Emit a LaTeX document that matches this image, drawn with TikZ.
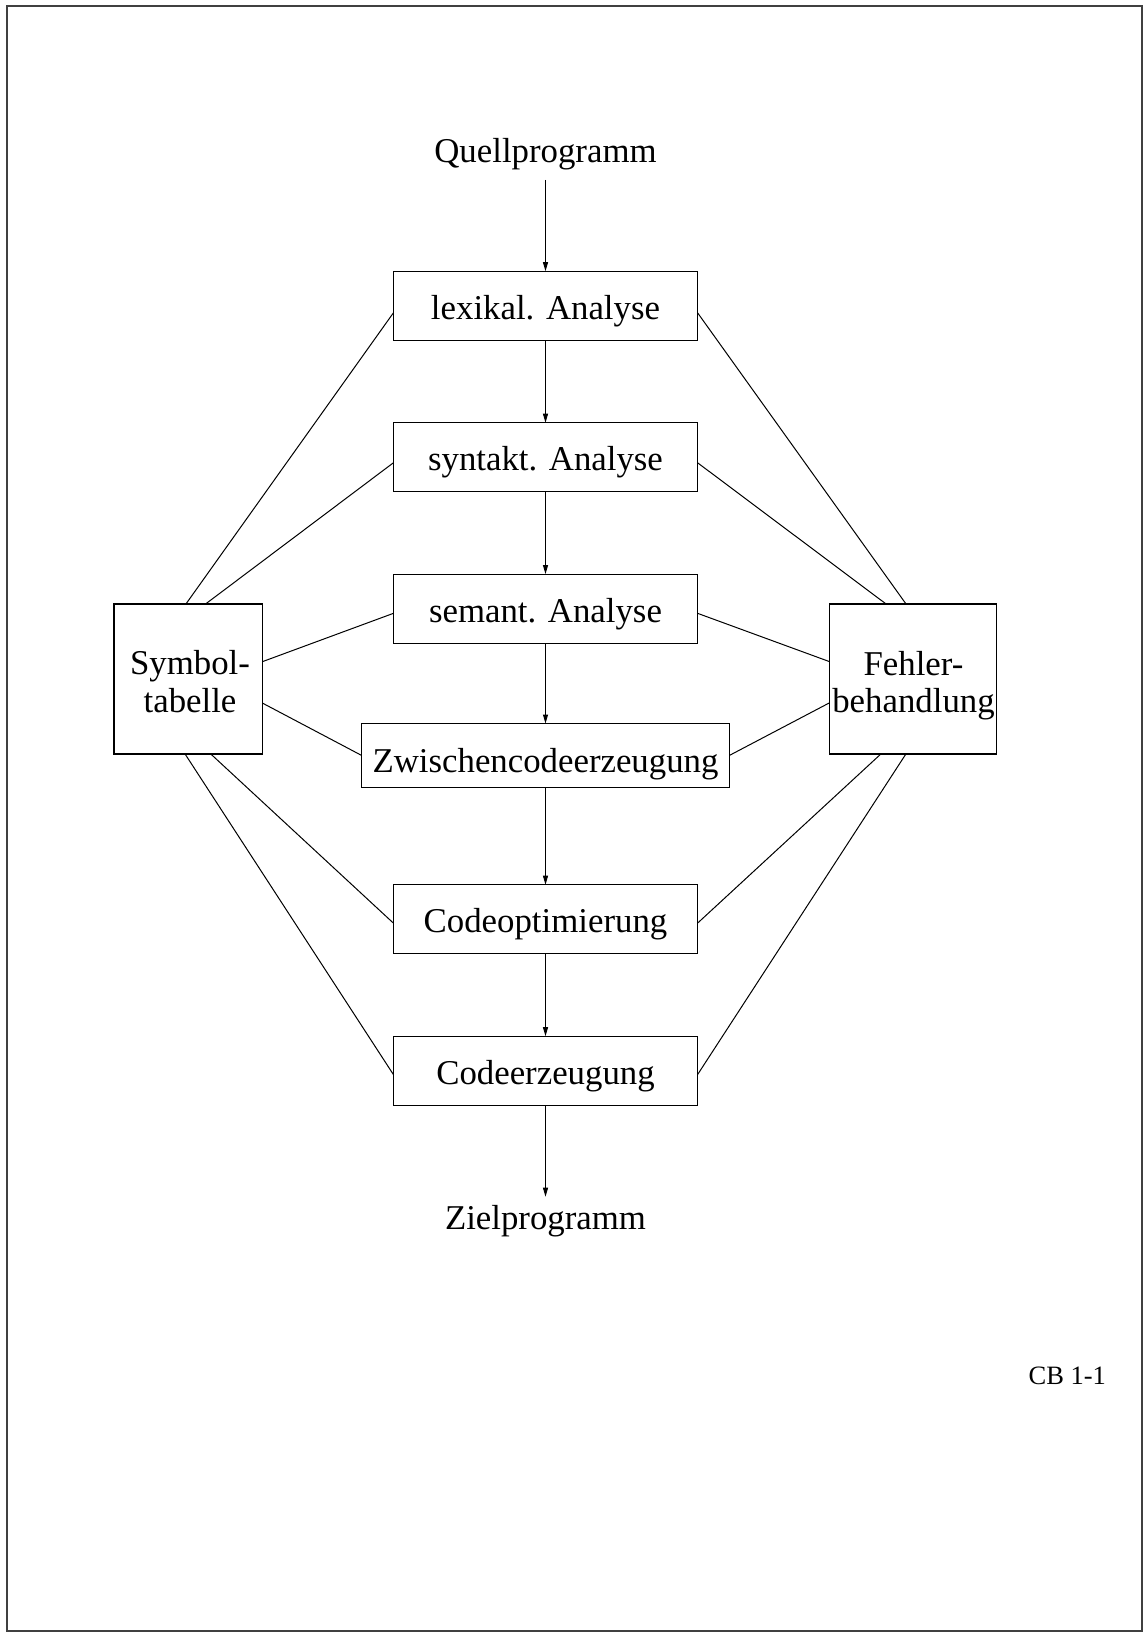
\documentclass[tikz,border=0pt]{standalone}
\usepackage{fontspec}
\setmainfont{Liberation Serif}
\usetikzlibrary{arrows.meta}
\newcommand\stagefont{\fontsize{34.8pt}{38pt}\selectfont}
\newcommand\tagfont{\fontsize{26.5pt}{30pt}\selectfont}
\begin{document}
\begin{tikzpicture}[x=1pt,y=-1pt,
  every node/.style={inner sep=0pt, outer sep=0pt},
  txt/.style={font=\stagefont},
  stage/.style={draw, line width=1.2pt, font=\stagefont,
    minimum width=304pt, minimum height=69pt,
    text height=30pt, text depth=3pt},
  side/.style={draw, line width=1.2pt, minimum height=150pt},
  flow/.style={line width=1pt, -{Triangle[length=9pt,width=5pt]}},
  link/.style={line width=1pt}]
\useasboundingbox (0,0) rectangle (1144,1632);
% page frame
\draw[line width=2pt, black!75] (7.3,6.3) rectangle (1142.3,1630.7);

% compiler phases
\node[txt, anchor=base, text depth=4pt, inner ysep=13.3pt] (src) at (545.5,162.7) {Quellprogramm};
\node[stage] (lex) at (545.5,305.7) {lexikal. Analyse};
\node[stage] (syn) at (545.5,457.2) {syntakt. Analyse};
\node[stage] (sem) at (545.5,608.6) {semant. Analyse};
\node[stage, minimum width=367.5pt, minimum height=64pt, text height=37pt] (zw) at (545.5,755.5) {Zwischencodeerzeugung};
\node[stage] (opt) at (545.5,919.2) {Codeoptimierung};
\node[stage] (gen) at (545.5,1070.7) {Codeerzeugung};
\node[txt, anchor=base, text height=26pt, inner ysep=7pt] (dst) at (545.5,1229.7) {Zielprogramm};

% side components
\node[side, minimum width=148.3pt] (sym) at (188.15,678.9) {};
\node[txt, anchor=base] (symA) at (190,674.2) {Symbol-};
\node[txt, anchor=base] (symB) at (190,712.5) {tabelle};
\node[side, minimum width=166.5pt] (err) at (912.95,678.9) {};
\node[txt, anchor=base] (errA) at (913.5,675) {Fehler-};
\node[txt, anchor=base] (errB) at (913.5,712.7) {behandlung};

\node[anchor=base, font=\tagfont] (tag) at (1067.3,1384) {CB 1-1};

% main flow
\draw[flow] (src) -- (lex);
\draw[flow] (lex) -- (syn);
\draw[flow] (syn) -- (sem);
\draw[flow] (sem) -- (zw);
\draw[flow] (zw) -- (opt);
\draw[flow] (opt) -- (gen);
\draw[flow] (gen) -- (dst);

% links to the symbol table
\draw[link] ([yshift=-7pt]lex.west) -- ([xshift=-2.15pt]sym.north);
\draw[link] ([yshift=-5.5pt]syn.west) -- ([xshift=17.55pt]sym.north);
\draw[link] ([yshift=-4.7pt]sem.west) -- ([yshift=17.2pt]sym.east);
\draw[link] (zw.west) -- ([yshift=-24.1pt]sym.east);
\draw[link] ([yshift=-4pt]opt.west) -- ([xshift=22.55pt]sym.south);
\draw[link] ([yshift=-4pt]gen.west) -- ([xshift=-3.15pt]sym.south);

% links to the error handling
\draw[link] ([yshift=-7pt]lex.east) -- ([xshift=-7pt]err.north);
\draw[link] ([yshift=-5.5pt]syn.east) -- ([xshift=-27pt]err.north);
\draw[link] ([yshift=-4.7pt]sem.east) -- ([yshift=17.2pt]err.west);
\draw[link] (zw.east) -- ([yshift=-23.8pt]err.west);
\draw[link] ([yshift=-4pt]opt.east) -- ([xshift=-32pt]err.south);
\draw[link] ([yshift=-4pt]gen.east) -- ([xshift=-7pt]err.south);
\end{tikzpicture}
\end{document}
